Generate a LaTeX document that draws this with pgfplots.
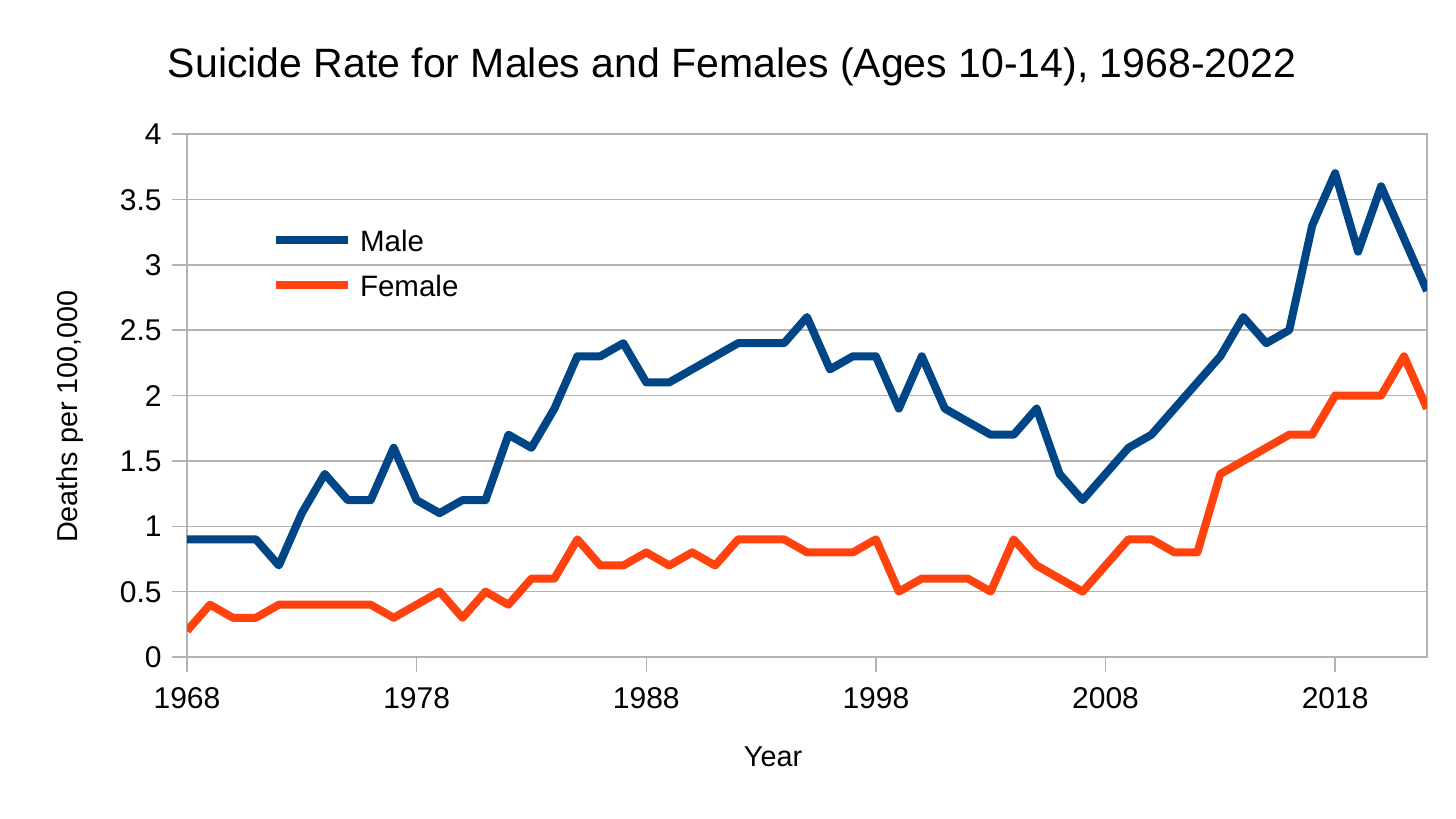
\documentclass[border=0pt]{standalone}
\usepackage{fontspec}
\setmainfont{Liberation Sans}
\usepackage{pgfplots}
\usepackage{pgfplotstable}
\pgfplotsset{compat=1.18}
\definecolor{male}{HTML}{004586}
\definecolor{female}{HTML}{FF420E}
\definecolor{gridc}{HTML}{B3B3B3}
\pgfplotstableread{
year male female
1968 0.9 0.2
1969 0.9 0.4
1970 0.9 0.3
1971 0.9 0.3
1972 0.7 0.4
1973 1.1 0.4
1974 1.4 0.4
1975 1.2 0.4
1976 1.2 0.4
1977 1.6 0.3
1978 1.2 0.4
1979 1.1 0.5
1980 1.2 0.3
1981 1.2 0.5
1982 1.7 0.4
1983 1.6 0.6
1984 1.9 0.6
1985 2.3 0.9
1986 2.3 0.7
1987 2.4 0.7
1988 2.1 0.8
1989 2.1 0.7
1990 2.2 0.8
1991 2.3 0.7
1992 2.4 0.9
1993 2.4 0.9
1994 2.4 0.9
1995 2.6 0.8
1996 2.2 0.8
1997 2.3 0.8
1998 2.3 0.9
1999 1.9 0.5
2000 2.3 0.6
2001 1.9 0.6
2002 1.8 0.6
2003 1.7 0.5
2004 1.7 0.9
2005 1.9 0.7
2006 1.4 0.6
2007 1.2 0.5
2008 1.4 0.7
2009 1.6 0.9
2010 1.7 0.9
2011 1.9 0.8
2012 2.1 0.8
2013 2.3 1.4
2014 2.6 1.5
2015 2.4 1.6
2016 2.5 1.7
2017 3.3 1.7
2018 3.7 2.0
2019 3.1 2.0
2020 3.6 2.0
2021 3.2 2.3
2022 2.8 1.9
}\data
\begin{document}
\begin{tikzpicture}
\begin{axis}[
  scale only axis, width=620bp, height=261.5bp,
  xmin=1968, xmax=2022, ymin=0, ymax=4,
  xtick={1968,1978,1988,1998,2008,2018},
  xticklabels={1968,1978,1988,1998,2008,2018},
  ytick={0,0.5,1,1.5,2,2.5,3,3.5,4},
  yticklabels={0,0.5,1,1.5,2,2.5,3,3.5,4},
  ymajorgrids,
  major grid style={gridc, line width=0.75bp},
  axis line style={gridc, line width=0.75bp},
  tick style={gridc, line width=0.75bp},
  major tick length=7.5bp,
  tick align=outside,
  xtick pos=bottom, ytick pos=left,
  /pgf/number format/assume math mode=true,
  ticklabel style={font=\fontsize{15bp}{18bp}\selectfont, text=black},
  yticklabel style={anchor=east, inner sep=0pt, text height=10.7bp, text depth=0pt, xshift=-5bp},
  xticklabel style={anchor=north, inner sep=0pt, text height=10.7bp, text depth=0pt, yshift=-7.35bp},
  legend style={draw=none, fill=none, at={(0.0686,0.8164)}, anchor=north west,
    inner sep=0pt, outer sep=0pt, row sep=12bp, column sep=4bp,
    font=\fontsize{14.75bp}{17bp}\selectfont,
    cells={anchor=base west},
    nodes={inner sep=0pt, text height=10.5bp, text depth=0pt}},
  legend image code/.code={\path[draw=none, fill=none] (0bp,0bp) rectangle (36bp,10.5bp);
    \draw[#1] (0bp,5.3bp) -- (36bp,5.3bp);},
]
\addplot[male, line width=4bp, line join=round] table[x=year, y=male] {\data};
\addlegendentry{Male}
\addplot[female, line width=4bp, line join=round] table[x=year, y=female] {\data};
\addlegendentry{Female}
\end{axis}
\node[anchor=base, font=\fontsize{20.5bp}{24bp}\selectfont] at (272.5bp,289.5bp)
  {Suicide Rate for Males and Females (Ages 10-14), 1968-2022};
\node[rotate=90, anchor=base, font=\fontsize{14.4bp}{17bp}\selectfont] at (-54.5bp,120.25bp)
  {Deaths per 100,000};
\node[anchor=base, font=\fontsize{14.4bp}{17bp}\selectfont] at (293bp,-54.5bp) {Year};
\pgfresetboundingbox
\useasboundingbox (-93.5bp,-81bp) rectangle (634.5bp,328.5bp);
\end{tikzpicture}
\end{document}
